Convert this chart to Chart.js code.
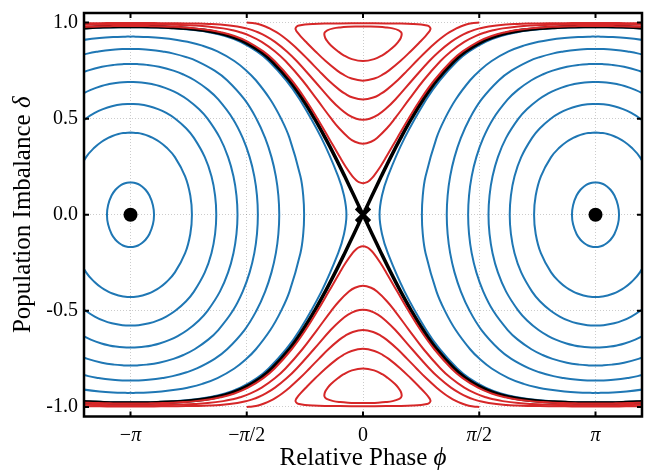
<!DOCTYPE html>
<html>
<head>
<meta charset="utf-8">
<script src="https://cdn.jsdelivr.net/npm/chart.js@4"></script>
<style>
  body { margin: 0; background: #fff; }
  canvas { display: block; }
</style>
</head>
<body>
<canvas id="retrato" width="647" height="470"></canvas>
<script>
// axis ticks
const ticksFase = [-Math.PI, -Math.PI / 2, 0, Math.PI / 2, Math.PI];
const rotulosFase = [['−', 'π', ''], ['−', 'π', '/2'], ['0', '', ''], ['', 'π', '/2'], ['', 'π', '']];
const ticksDelta = [-1, -0.5, 0, 0.5, 1];

// fixed points
const centros = [-Math.PI, Math.PI];   // stable (dots)
const selas = [0];                     // saddle (x)

// blue orbits around phi = +-pi, one quarter each read off the figure:
// [distance in phi from the centre, delta], from delta = 0 up to the top
const orbita1 = [[0.318, 0], [0.303, 0.05], [0.256, 0.10], [0.203, 0.13], [0.146, 0.15], [0.102, 0.16], [0.047, 0.167], [0, 0.168]];
const orbita2 = [[0.830, 0], [0.808, 0.1], [0.738, 0.2], [0.600, 0.3], [0.486, 0.35], [0.390, 0.38], [0.302, 0.40], [0.244, 0.41], [0.163, 0.42], [0.099, 0.425], [0, 0.428]];
const orbita3 = [[1.159, 0], [1.143, 0.1], [1.094, 0.2], [1.004, 0.3], [0.857, 0.4], [0.751, 0.45], [0.605, 0.5], [0.483, 0.53], [0.372, 0.55], [0.252, 0.565], [0.109, 0.575], [0, 0.577]];
const orbita4 = [[1.446, 0], [1.432, 0.1], [1.391, 0.2], [1.319, 0.3], [1.208, 0.4], [1.041, 0.5], [0.924, 0.55], [0.769, 0.6], [0.644, 0.63], [0.537, 0.65], [0.392, 0.67], [0.288, 0.68], [0.199, 0.686], [0.101, 0.69], [0, 0.691]];
const orbita5 = [[1.721, 0], [1.709, 0.1], [1.673, 0.2], [1.610, 0.3], [1.516, 0.4], [1.382, 0.5], [1.186, 0.6], [1.050, 0.65], [0.866, 0.7], [0.715, 0.73], [0.580, 0.75], [0.386, 0.77], [0.221, 0.78], [0.089, 0.784], [0, 0.785]];
const orbita6 = [[2.010, 0], [1.998, 0.1], [1.964, 0.2], [1.905, 0.3], [1.819, 0.4], [1.701, 0.5], [1.540, 0.6], [1.305, 0.7], [1.137, 0.75], [0.896, 0.8], [0.758, 0.82], [0.569, 0.84], [0.433, 0.85], [0.341, 0.855], [0.206, 0.86], [0.111, 0.862], [0, 0.863]];
const orbita7 = [[2.346, 0], [2.334, 0.1], [2.296, 0.2], [2.148, 0.4], [2.035, 0.5], [1.889, 0.6], [1.694, 0.7], [1.566, 0.75], [1.403, 0.8], [1.175, 0.85], [0.971, 0.88], [0.771, 0.9], [0.630, 0.91], [0.419, 0.92], [0.235, 0.925], [0.069, 0.927], [0, 0.927]];
const orbita8 = [[2.918, 0], [2.885, 0.1], [2.806, 0.2], [2.579, 0.4], [2.287, 0.6], [2.103, 0.7], [1.867, 0.8], [1.708, 0.85], [1.485, 0.9], [1.278, 0.93], [1.058, 0.95], [0.887, 0.96], [0.597, 0.97], [0.375, 0.974], [0.137, 0.976], [0, 0.976]];

// separatrix, upper right branch [phi, delta]
const separatriz = [[0, 0], [0.123, 0.1], [0.247, 0.2], [0.375, 0.3], [0.510, 0.4], [0.654, 0.5], [0.813, 0.6], [0.997, 0.7], [1.231, 0.8], [1.386, 0.85], [1.600, 0.9], [1.793, 0.93], [1.994, 0.95], [2.145, 0.96], [2.381, 0.97], [2.582, 0.975], [2.787, 0.978], [2.995, 0.9795], [3.142, 0.9798], [3.288, 0.9795], [3.497, 0.978], [3.702, 0.975], [3.902, 0.97]];

// red running-phase curves, right half [phi, delta]
const presa1 = [[0, 0.1645], [0.056, 0.17], [0.092, 0.18], [0.142, 0.2], [0.234, 0.25], [0.313, 0.3], [0.463, 0.4], [0.615, 0.5], [0.777, 0.6], [0.964, 0.7], [1.195, 0.8], [1.347, 0.85], [1.554, 0.9], [1.738, 0.93], [1.924, 0.95], [2.062, 0.96], [2.268, 0.97], [2.430, 0.975], [2.572, 0.978], [2.707, 0.98], [2.865, 0.9815], [2.950, 0.982], [3.142, 0.9824], [3.334, 0.982], [3.419, 0.9815], [3.576, 0.98], [3.712, 0.978], [3.853, 0.975]];
const presa2 = [[0, 0.3697], [0.109, 0.38], [0.190, 0.4], [0.323, 0.45], [0.429, 0.5], [0.622, 0.6], [0.819, 0.7], [1.047, 0.8], [1.188, 0.85], [1.369, 0.9], [1.520, 0.93], [1.661, 0.95], [1.758, 0.96], [1.889, 0.97], [2.100, 0.98], [2.283, 0.985], [2.463, 0.988], [2.662, 0.99], [2.834, 0.991], [3.002, 0.9915], [3.142, 0.9916], [3.282, 0.9915], [3.450, 0.991], [3.621, 0.99], [3.821, 0.988]];
const presa3 = [[0, 0.4948], [0.090, 0.5], [0.201, 0.52], [0.304, 0.55], [0.437, 0.6], [0.664, 0.7], [0.896, 0.8], [1.029, 0.85], [1.189, 0.9], [1.313, 0.93], [1.420, 0.95], [1.489, 0.96], [1.575, 0.97], [1.699, 0.98], [1.934, 0.99], [2.080, 0.993], [2.248, 0.995], [2.386, 0.996], [2.631, 0.997], [2.826, 0.9974], [3.142, 0.9976], [3.457, 0.9974], [3.652, 0.997], [3.897, 0.996]];
const presa4 = [[0, 0.6], [0.138, 0.61], [0.243, 0.63], [0.318, 0.65], [0.468, 0.7], [0.597, 0.75], [0.723, 0.8], [0.852, 0.85], [0.995, 0.9], [1.093, 0.93], [1.170, 0.95], [1.262, 0.97], [1.319, 0.98], [1.394, 0.99], [1.446, 0.995], [1.492, 0.998], [1.571, 1.0]];
// red closed loops near phi = 0, right quarter from bottom to top
const laco1 = [[0, 0.698], [0.163, 0.71], [0.269, 0.73], [0.348, 0.75], [0.505, 0.8], [0.642, 0.85], [0.771, 0.9], [0.845, 0.93], [0.889, 0.95], [0.905, 0.96], [0.912, 0.97], [0.895, 0.98], [0.863, 0.985], [0.785, 0.99], [0.672, 0.993], [0.504, 0.995], [0.314, 0.996], [0, 0.9965]];
const laco2 = [[0, 0.8], [0.150, 0.81], [0.261, 0.83], [0.336, 0.85], [0.429, 0.88], [0.476, 0.9], [0.510, 0.92], [0.523, 0.94], [0.514, 0.95], [0.483, 0.96], [0.400, 0.97], [0.308, 0.975], [0.201, 0.978], [0.085, 0.9795], [0, 0.9799]];

const AZUL = '#1f77b4';
const VERMELHO = '#d62728';

// the portrait is symmetric, so the quarters are mirrored into whole curves
function orbita(q, c) {
  const r = q.slice().reverse();
  const pts = [];
  r.forEach(([d, z]) => pts.push([c + d, z]));
  q.slice(1).forEach(([d, z]) => pts.push([c + d, -z]));
  r.slice(1).forEach(([d, z]) => pts.push([c - d, -z]));
  q.slice(1).forEach(([d, z]) => pts.push([c - d, z]));
  return pts;
}
function laco(q, s) {
  const r = q.slice().reverse();
  return [...r.map(([p, z]) => [p, s * z]), ...q.slice(1).map(([p, z]) => [-p, s * z])];
}
function aberta(h, s) {
  const r = h.slice(1).reverse();
  return [...r.map(([p, z]) => [-p, s * z]), ...h.map(([p, z]) => [p, s * z])];
}
function diagonal(h, s) {
  const r = h.slice(1).reverse();
  return [...r.map(([p, z]) => [-p, -s * z]), ...h.map(([p, z]) => [p, s * z])];
}
function linha(pts, cor, largura, ordem) {
  return {
    data: pts.map(([x, y]) => ({ x, y })),
    showLine: true,
    borderColor: cor,
    borderWidth: largura,
    pointRadius: 0,
    tension: 0.4,
    fill: false,
    clip: 0,
    order: ordem
  };
}

const datasets = [];
datasets.push({
  data: centros.map(x => ({ x, y: 0 })),
  pointRadius: 7, pointBackgroundColor: '#000', pointBorderWidth: 0, order: 0
});
datasets.push({
  data: selas.map(x => ({ x, y: 0 })),
  pointStyle: 'crossRot', pointRadius: 9.5, pointBorderColor: '#000', pointBorderWidth: 4, order: 0
});
[orbita1, orbita2, orbita3, orbita4, orbita5, orbita6, orbita7, orbita8].forEach(q => {
  centros.forEach(c => datasets.push(linha(orbita(q, c), AZUL, 2, 3)));
});
[1, -1].forEach(s => datasets.push(linha(diagonal(separatriz, s), '#000', 3.5, 2)));
[presa1, presa2, presa3, presa4].forEach(h => {
  [1, -1].forEach(s => datasets.push(linha(aberta(h, s), VERMELHO, 2, 1)));
});
[laco1, laco2].forEach(q => {
  [1, -1].forEach(s => datasets.push(linha(laco(q, s), VERMELHO, 2, 1)));
});

// draws text made of upright / italic pieces, centred on cx
function textoMisto(ctx, partes, cx, y, tam) {
  const fontes = partes.map((p, i) => (i % 2 === 1 ? 'italic ' : '') + tam + 'px "Liberation Serif"');
  let total = 0;
  const larguras = partes.map((p, i) => { ctx.font = fontes[i]; const w = ctx.measureText(p).width; total += w; return w; });
  let x = cx - total / 2;
  partes.forEach((p, i) => {
    ctx.font = fontes[i];
    ctx.fillText(p, x, y);
    x += larguras[i];
  });
}

const moldura = {
  id: 'moldura',
  afterDraw(chart) {
    const { ctx, chartArea: a, scales: { x, y } } = chart;
    ctx.save();
    ctx.strokeStyle = '#000';
    ctx.lineWidth = 2;
    ctx.beginPath();
    ticksFase.forEach(v => {
      const px = x.getPixelForValue(v);
      ctx.moveTo(px, a.top); ctx.lineTo(px, a.top + 5);
      ctx.moveTo(px, a.bottom); ctx.lineTo(px, a.bottom - 5);
    });
    ticksDelta.forEach(v => {
      const py = y.getPixelForValue(v);
      ctx.moveTo(a.left, py); ctx.lineTo(a.left + 5, py);
      ctx.moveTo(a.right, py); ctx.lineTo(a.right - 5, py);
    });
    ctx.stroke();
    ctx.lineWidth = 2.5;
    ctx.strokeRect(a.left, a.top, a.right - a.left, a.bottom - a.top);

    ctx.fillStyle = '#000';
    ctx.textBaseline = 'alphabetic';
    ticksFase.forEach((v, i) => {
      textoMisto(ctx, rotulosFase[i], x.getPixelForValue(v), a.bottom + 24.5, 20);
    });
    textoMisto(ctx, ['Relative Phase ', 'ϕ'], (a.left + a.right) / 2, 465, 25);
    ctx.translate(30, (a.top + a.bottom) / 2);
    ctx.rotate(-Math.PI / 2);
    textoMisto(ctx, ['Population Imbalance ', 'δ'], 0, 0, 25);
    ctx.restore();
  }
};

const grade = { color: 'rgba(0, 0, 0, 0.2)', lineWidth: 1, drawTicks: false };
// fixed axis boxes so the plot frame sits where it does in the figure
function semFolga(s) {
  s.paddingTop = 0; s.paddingBottom = 0; s.paddingLeft = 0; s.paddingRight = 0;
}

new Chart(document.getElementById('retrato'), {
  type: 'scatter',
  data: { datasets },
  options: {
    responsive: false,
    animation: false,
    layout: { autoPadding: false, padding: { top: 13, right: 5, left: 0, bottom: 0 } },
    elements: { line: { capBezierPoints: false } },
    plugins: { legend: { display: false }, tooltip: { enabled: false } },
    scales: {
      x: {
        type: 'linear',
        min: -1.2 * Math.PI,
        max: 1.2 * Math.PI,
        afterBuildTicks: s => { s.ticks = ticksFase.map(v => ({ value: v })); },
        afterFit: s => { s.height = 53.5; semFolga(s); },
        ticks: { display: false },
        grid: grade,
        border: { display: false, dash: [1, 2] }
      },
      y: {
        type: 'linear',
        min: -1.05,
        max: 1.05,
        afterBuildTicks: s => { s.ticks = ticksDelta.map(v => ({ value: v })); },
        afterFit: s => { s.width = 84; semFolga(s); },
        ticks: {
          padding: 6,
          color: '#000',
          font: { family: 'Liberation Serif', size: 20 },
          callback: v => v.toFixed(1)
        },
        grid: grade,
        border: { display: false, dash: [1, 2] }
      }
    }
  },
  plugins: [moldura]
});
</script>
</body>
</html>
